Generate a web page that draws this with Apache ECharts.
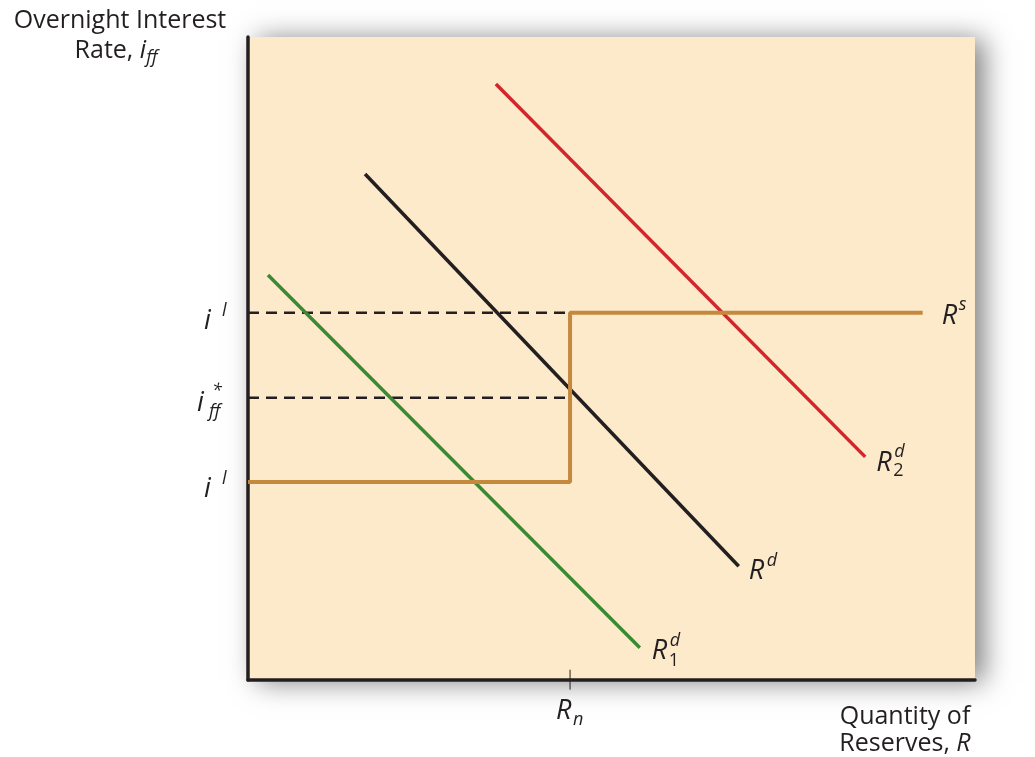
<!DOCTYPE html>
<html><head><meta charset="utf-8">
<script src="https://cdn.jsdelivr.net/npm/echarts@6/dist/echarts.min.js"></script>
<style>html,body{margin:0;padding:0;background:#fff}#c{width:1035px;height:757px}</style>
</head><body><div id="c"></div>
<script>
// ---- data (axis units 0..100) ----
const xRange = [0, 100];
const yRange = [0, 100];
const demandR2 = [[34.1, 92.7], [84.9, 34.7]];
const demandR = [[16.1, 78.7], [67.5, 17.7]];
const demandR1 = [[2.75, 63.0], [53.9, 5.0]];
const Rn = 44.3;
const iUpper = 57.1;
const iStar = 43.9;
const iLower = 30.8;
const supplyEnd = 92.8;
const supply = [[0, iLower], [Rn, iLower], [Rn, iUpper], [supplyEnd, iUpper]];
const dashUpper = [[0, iUpper], [Rn, iUpper]];
const dashStar = [[0, iStar], [Rn, iStar]];
const rnTick = [[Rn, -1.5], [Rn, 1.6]];

const FONT = '"Open Sans", "Noto Sans", sans-serif';
const INK = '#231f20';

const chart = echarts.init(document.getElementById('c'), null, {renderer: 'canvas'});

function lineSeries(data, color, width, type) {
  return {
    type: 'line', data: data, symbol: 'none', silent: true, animation: false,
    clip: false,
    lineStyle: {color: color, width: width, type: type || 'solid', cap: 'butt'}
  };
}

const option = {
  backgroundColor: '#ffffff',
  animation: false,
  grid: {
    left: 248, top: 37, right: 60, bottom: 77,
    show: true, backgroundColor: '#fdeacb', borderWidth: 0,
    shadowBlur: 26, shadowColor: 'rgba(0,0,0,0.5)', shadowOffsetX: 9, shadowOffsetY: 2
  },
  xAxis: {
    type: 'value', min: xRange[0], max: xRange[1],
    axisLine: {show: true, lineStyle: {color: INK, width: 3.5}},
    axisTick: {show: false}, axisLabel: {show: false}, splitLine: {show: false}
  },
  yAxis: {
    type: 'value', min: yRange[0], max: yRange[1],
    axisLine: {show: true, lineStyle: {color: INK, width: 3.5}},
    axisTick: {show: false}, axisLabel: {show: false}, splitLine: {show: false}
  },
  series: [
    lineSeries(dashUpper, INK, 2.5, [11, 7]),
    lineSeries(dashStar, INK, 2.5, [11, 7]),
    lineSeries(demandR1, '#3a8a35', 3.5),
    lineSeries(demandR, INK, 3.5),
    lineSeries(demandR2, '#d2262b', 3.5),
    lineSeries(supply, '#c4893c', 4),
    lineSeries(rnTick, INK, 1)
  ]
};
chart.setOption(option);

const ctx = document.createElement('canvas').getContext('2d');
function fontStr(size, italic) { return (italic ? 'italic ' : '') + size + 'px ' + FONT; }
function measure(t, size, italic) { ctx.font = fontStr(size, italic); return ctx.measureText(t).width; }
function T(text, x, y, size, italic, align) {
  return {type: 'text', x: x, y: y, silent: true,
    style: {text: text, font: fontStr(size, italic), fill: INK, align: align || 'left', verticalAlign: 'middle'}};
}
const px = (pt) => chart.convertToPixel({gridIndex: 0}, pt);

const g = [];
// axis titles
g.push(T('Overnight Interest', 120, 21, 25, false, 'center'));
{
  const w1 = measure('Rate, ', 25, false), w2 = measure('i', 25, true), w3 = measure('ff', 18, true);
  const left = 116 - (w1 + w2 + w3) / 2;
  g.push(T('Rate, ', left, 51, 25, false));
  g.push(T('i', left + w1, 51, 25, true));
  g.push(T('ff', left + w1 + w2, 58, 18, true));
}
g.push(T('Quantity of', 905, 717, 25, false, 'center'));
{
  const w1 = measure('Reserves, ', 25, false), w2 = measure('R', 25, true);
  const left = 905 - (w1 + w2) / 2;
  g.push(T('Reserves, ', left, 744, 25, false));
  g.push(T('R', left + w1, 744, 25, true));
}
// curve labels
{
  const e = px([supplyEnd, iUpper]);
  g.push(T('R', e[0] + 19, e[1] + 3, 27, true));
  g.push(T('s', e[0] + 36, e[1] - 8, 18, true));
}
{
  const e = px(demandR2[1]);
  g.push(T('R', e[0] + 11, e[1] + 6, 27, true));
  g.push(T('d', e[0] + 29, e[1] - 5, 18, true));
  g.push(T('2', e[0] + 28, e[1] + 14, 18, false));
}
{
  const e = px(demandR[1]);
  g.push(T('R', e[0] + 10, e[1] + 5, 27, true));
  g.push(T('d', e[0] + 28, e[1] - 5, 18, true));
}
{
  const e = px(demandR1[1]);
  g.push(T('R', e[0] + 12, e[1] + 3, 27, true));
  g.push(T('d', e[0] + 30, e[1] - 7, 18, true));
  g.push(T('1', e[0] + 29, e[1] + 13, 18, false));
}
{
  const e = px([Rn, 0]);
  g.push(T('R', e[0] - 14, e[1] + 31, 27, true));
  g.push(T('n', e[0] + 3, e[1] + 40, 18, true));
}
// rate labels
{
  const e = px([0, iUpper]);
  g.push(T('i', e[0] - 44, e[1] + 8, 27, true));
  g.push(T('l', e[0] - 26, e[1] - 2, 18, true));
}
{
  const e = px([0, iStar]);
  g.push(T('i', e[0] - 51, e[1] + 6, 27, true));
  g.push(T('*', e[0] - 36, e[1] - 7, 18, true));
  g.push(T('ff', e[0] - 39, e[1] + 14, 18, true));
}
{
  const e = px([0, iLower]);
  g.push(T('i', e[0] - 44, e[1] + 7, 27, true));
  g.push(T('l', e[0] - 26, e[1] - 3, 18, true));
}
chart.setOption({graphic: g});
</script></body></html>
